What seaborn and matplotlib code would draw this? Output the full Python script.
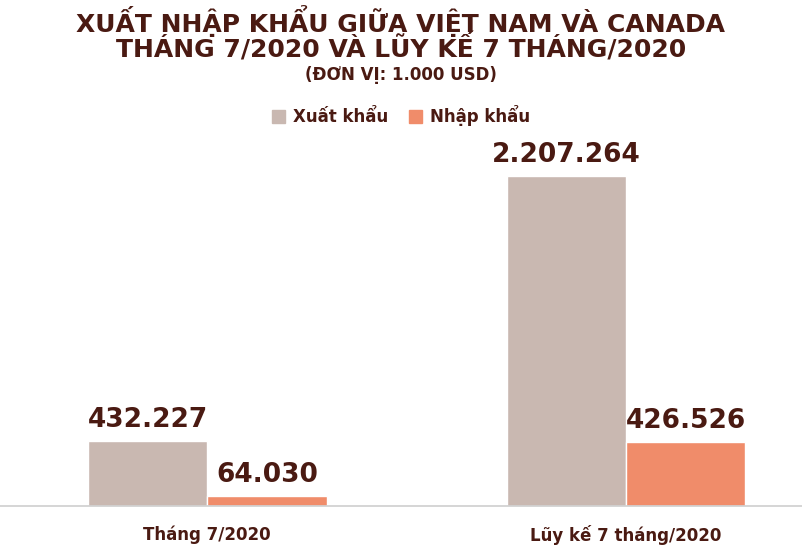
import matplotlib
matplotlib.use("Agg")
import matplotlib.pyplot as plt
import seaborn as sns
import pandas as pd

categories = ["Tháng 7/2020", "Lũy kế 7 tháng/2020"]
series = ["Xuất khẩu", "Nhập khẩu"]
xuat = [432227, 2207264]
nhap = [64030, 426526]
labels_x = ["432.227", "2.207.264"]
labels_n = ["64.030", "426.526"]

sns.set_theme(style="white")
plt.rcParams['font.family'] = ['DejaVu Sans']
dark = "#4A1A12"
colors = ["#C9B8B1", "#F08C6A"]

df = pd.DataFrame({
    "cat": categories * 2,
    "series": [series[0]] * 2 + [series[1]] * 2,
    "val": xuat + nhap,
})

fig = plt.figure(figsize=(8.02, 5.51), dpi=100)
ax = fig.add_axes([0.0, 0.082, 1.0, 0.682])
sns.barplot(data=df, x="cat", y="val", hue="series", palette=colors,
            width=0.57, ax=ax, legend=False, saturation=1)
ax.set_xlim(-0.495, 1.42)
ax.set_ylim(0, 2515000)
for s in ["top", "right", "left"]:
    ax.spines[s].set_visible(False)
ax.spines["bottom"].set_color("#d0d0d0")
ax.set_yticks([])
ax.set_xlabel("")
ax.set_ylabel("")
ax.tick_params(axis="x", length=0, pad=14)
for t in ax.get_xticklabels():
    t.set_fontsize(12); t.set_fontweight("bold"); t.set_color(dark)

labs = labels_x + labels_n
for cont, lab in zip(ax.containers, [labels_x, labels_n]):
    ax.bar_label(cont, labels=lab, padding=6, fontsize=19, fontweight="bold", color=dark)

fig.text(0.5, 0.962, "XUẤT NHẬP KHẨU GIỮA VIỆT NAM VÀ CANADA", ha="center", va="center",
         fontsize=18, fontweight="bold", color=dark)
fig.text(0.5, 0.912, "THÁNG 7/2020 VÀ LŨY KẾ 7 THÁNG/2020", ha="center", va="center",
         fontsize=18, fontweight="bold", color=dark)
fig.text(0.5, 0.864, "(ĐƠN VỊ: 1.000 USD)", ha="center", va="center",
         fontsize=12, fontweight="bold", color=dark)

from matplotlib.patches import Patch
handles = [Patch(color=c, label=s) for c, s in zip(colors, series)]
leg = fig.legend(handles=handles, loc="center", bbox_to_anchor=(0.5, 0.79), ncol=2,
                 frameon=False, fontsize=12, handlelength=0.8, handleheight=0.8,
                 columnspacing=1.2, handletextpad=0.5)
for t in leg.get_texts():
    t.set_color(dark); t.set_fontweight("bold")

fig.savefig("out.png", dpi=100)
